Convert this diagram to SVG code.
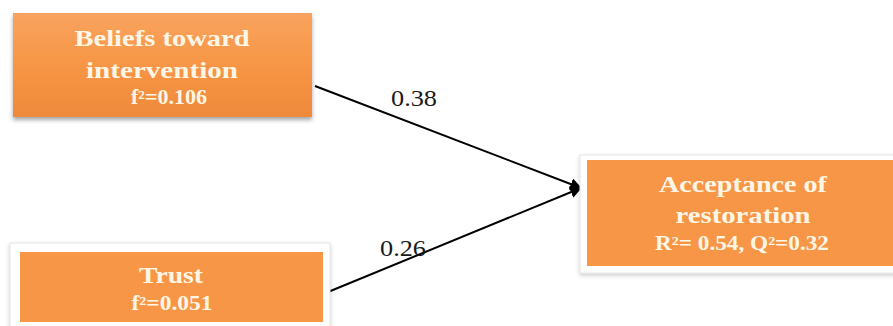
<svg xmlns="http://www.w3.org/2000/svg" width="893" height="326" viewBox="0 0 893 326">
<style>
.box{fill:#F79646}
.t{font-family:"Liberation Serif","Times New Roman",serif;font-weight:bold;fill:#FFF6E6;text-anchor:middle}
.big{font-size:24px}
.sm{font-size:20px}
.lbl{font-family:"Liberation Serif","Times New Roman",serif;font-size:24px;fill:#1a1a1a;text-anchor:middle}
.frame{fill:#ffffff;stroke:#e4e4e4;stroke-width:1}
.edge{stroke:#000;stroke-width:2;fill:none}
</style>
<defs>
<linearGradient id="g1" x1="0" y1="0" x2="0" y2="1">
<stop offset="0" stop-color="#F9A35F"/>
<stop offset="0.5" stop-color="#F79646"/>
<stop offset="1" stop-color="#EE8A3A"/>
</linearGradient>
<filter id="sh" x="-10%" y="-10%" width="120%" height="130%">
<feDropShadow dx="0" dy="3" stdDeviation="2" flood-color="#000" flood-opacity="0.35"/>
</filter>
<filter id="sh2" x="-10%" y="-10%" width="120%" height="130%">
<feDropShadow dx="0" dy="2" stdDeviation="2" flood-color="#000" flood-opacity="0.2"/>
</filter>
<marker id="arr" viewBox="0 0 10 10" refX="9" refY="5" markerWidth="6" markerHeight="6" orient="auto" markerUnits="strokeWidth">
<path d="M0,0 L10,5 L0,10 z" fill="#000"/>
</marker>
</defs>
<g id="connectors">
<line class="edge" x1="315" y1="86" x2="581" y2="188" marker-end="url(#arr)"/>
<line class="edge" x1="328" y1="292" x2="581" y2="188" marker-end="url(#arr)"/>
<text class="lbl" x="414" y="106" textLength="46" lengthAdjust="spacingAndGlyphs">0.38</text>
<text class="lbl" x="403" y="256" textLength="46" lengthAdjust="spacingAndGlyphs">0.26</text>
</g>
<g id="beliefs">
<rect x="13" y="13" width="299" height="104" fill="url(#g1)" filter="url(#sh)"/>
<text class="t big" x="162" y="46" textLength="175" lengthAdjust="spacingAndGlyphs">Beliefs toward</text>
<text class="t big" x="162" y="78" textLength="152" lengthAdjust="spacingAndGlyphs">intervention</text>
<text class="t sm" x="169" y="104" textLength="76" lengthAdjust="spacingAndGlyphs">f²=0.106</text>
</g>
<g id="trust">
<rect class="frame" x="10" y="243" width="320" height="90" filter="url(#sh2)"/>
<rect class="box" x="20" y="252" width="303" height="70"/>
<text class="t big" x="171" y="283" textLength="64" lengthAdjust="spacingAndGlyphs">Trust</text>
<text class="t sm" x="172" y="310" textLength="81" lengthAdjust="spacingAndGlyphs">f²=0.051</text>
</g>
<g id="acceptance">
<rect class="frame" x="580" y="155" width="330" height="118" filter="url(#sh2)"/>
<rect class="box" x="587" y="160" width="320" height="106"/>
<text class="t big" x="743" y="192" textLength="168" lengthAdjust="spacingAndGlyphs">Acceptance of</text>
<text class="t big" x="743" y="223" textLength="135" lengthAdjust="spacingAndGlyphs">restoration</text>
<text class="t sm" x="742" y="250" textLength="174" lengthAdjust="spacingAndGlyphs">R²= 0.54, Q²=0.32</text>
</g>
</svg>
